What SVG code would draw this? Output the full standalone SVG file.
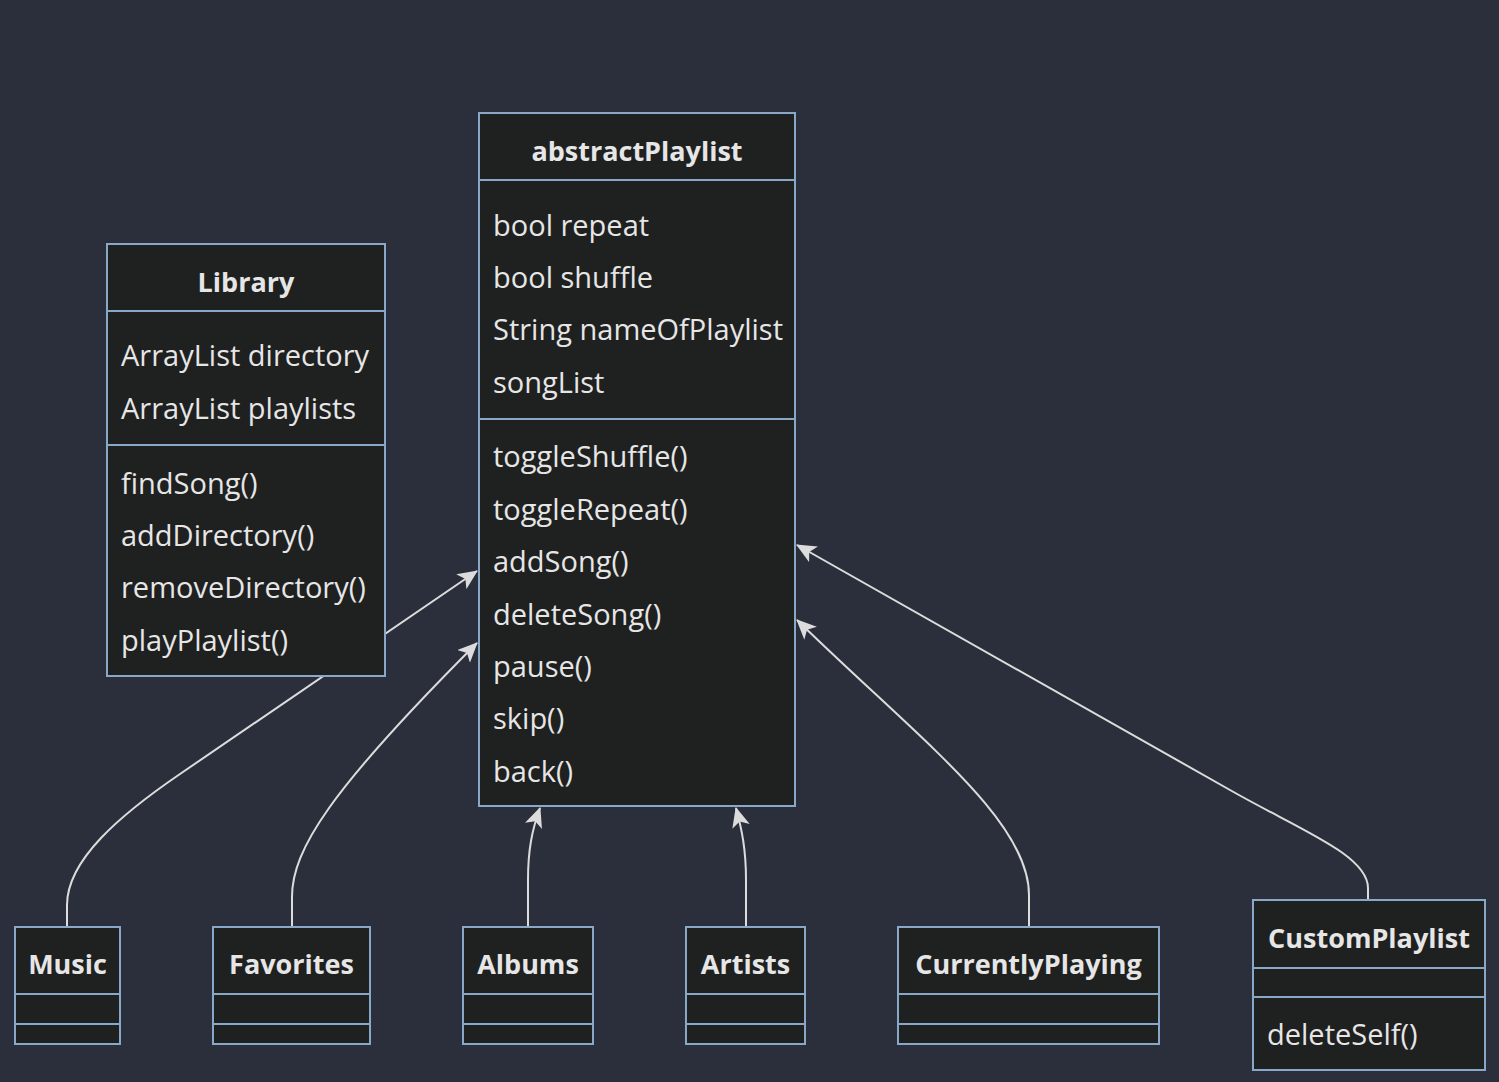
<svg xmlns="http://www.w3.org/2000/svg" width="1499" height="1082" viewBox="0 0 1499 1082">
<style>
.bg{fill:#2a2f3b}
.box{fill:#1f2020;stroke:#89a8c8;stroke-width:2}
.div{stroke:#89a8c8;stroke-width:2}
.t{font-family:"Open Sans","Liberation Sans",sans-serif;font-size:29px;fill:#e6e6e6}
.h{font-family:"Open Sans","Liberation Sans",sans-serif;font-size:27px;font-weight:bold;fill:#e6e6e6;text-anchor:middle}
.edge{fill:none;stroke:#dcdcdc;stroke-width:2}
</style>
<defs>
<marker id="arr" viewBox="0 0 20 18" refX="19" refY="9" markerWidth="20" markerHeight="18" markerUnits="userSpaceOnUse" orient="auto">
<path d="M0,0 L20,9 L0,18 L5,9 z" fill="#dcdcdc"/>
</marker>
</defs>
<rect class="bg" x="0" y="0" width="1499" height="1082"/>
<g id="connectors">
<path class="edge" marker-end="url(#arr)" d="M67,927 L67,905 C67,860 120,815 180,774 L477,571"/>
<path class="edge" marker-end="url(#arr)" d="M292,927 L292,897 C292,850 330,790 477,643"/>
<path class="edge" marker-end="url(#arr)" d="M528,927 L528,880 C528,850 532,830 540,808"/>
<path class="edge" marker-end="url(#arr)" d="M746,927 L746,880 C746,850 742,830 736,808"/>
<path class="edge" marker-end="url(#arr)" d="M1029,927 L1029,895 C1029,820 920,740 797,620"/>
<path class="edge" marker-end="url(#arr)" d="M1368,900 L1368,888 C1368,855 1300,830 1230,790 L797,545"/>
</g>
<g id="abstractPlaylist">
<rect class="box" x="479" y="113" width="316" height="693"/>
<line class="div" x1="479" y1="180" x2="795" y2="180"/>
<line class="div" x1="479" y1="419" x2="795" y2="419"/>
<text class="h" x="637" y="161">abstractPlaylist</text>
<text class="t" x="493" y="236">bool repeat</text>
<text class="t" x="493" y="288">bool shuffle</text>
<text class="t" x="493" y="340">String nameOfPlaylist</text>
<text class="t" x="493" y="393">songList</text>
<text class="t" x="493" y="467">toggleShuffle()</text>
<text class="t" x="493" y="520">toggleRepeat()</text>
<text class="t" x="493" y="572">addSong()</text>
<text class="t" x="493" y="625">deleteSong()</text>
<text class="t" x="493" y="677">pause()</text>
<text class="t" x="493" y="729">skip()</text>
<text class="t" x="493" y="782">back()</text>
</g>
<g id="Library">
<rect class="box" x="107" y="244" width="278" height="432"/>
<line class="div" x1="107" y1="311" x2="385" y2="311"/>
<line class="div" x1="107" y1="445" x2="385" y2="445"/>
<text class="h" x="246" y="292">Library</text>
<text class="t" x="121" y="366">ArrayList directory</text>
<text class="t" x="121" y="419">ArrayList playlists</text>
<text class="t" x="121" y="494">findSong()</text>
<text class="t" x="121" y="546">addDirectory()</text>
<text class="t" x="121" y="598">removeDirectory()</text>
<text class="t" x="121" y="651">playPlaylist()</text>
</g>
<g id="Music">
<rect class="box" x="15" y="927" width="105" height="117"/>
<line class="div" x1="15" y1="994" x2="120" y2="994"/>
<line class="div" x1="15" y1="1024" x2="120" y2="1024"/>
<text class="h" x="67.5" y="974">Music</text>
</g>
<g id="Favorites">
<rect class="box" x="213" y="927" width="157" height="117"/>
<line class="div" x1="213" y1="994" x2="370" y2="994"/>
<line class="div" x1="213" y1="1024" x2="370" y2="1024"/>
<text class="h" x="291.5" y="974">Favorites</text>
</g>
<g id="Albums">
<rect class="box" x="463" y="927" width="130" height="117"/>
<line class="div" x1="463" y1="994" x2="593" y2="994"/>
<line class="div" x1="463" y1="1024" x2="593" y2="1024"/>
<text class="h" x="528" y="974">Albums</text>
</g>
<g id="Artists">
<rect class="box" x="686" y="927" width="119" height="117"/>
<line class="div" x1="686" y1="994" x2="805" y2="994"/>
<line class="div" x1="686" y1="1024" x2="805" y2="1024"/>
<text class="h" x="745.5" y="974">Artists</text>
</g>
<g id="CurrentlyPlaying">
<rect class="box" x="898" y="927" width="261" height="117"/>
<line class="div" x1="898" y1="994" x2="1159" y2="994"/>
<line class="div" x1="898" y1="1024" x2="1159" y2="1024"/>
<text class="h" x="1028.5" y="974">CurrentlyPlaying</text>
</g>
<g id="CustomPlaylist">
<rect class="box" x="1253" y="900" width="232" height="170"/>
<line class="div" x1="1253" y1="968" x2="1485" y2="968"/>
<line class="div" x1="1253" y1="997" x2="1485" y2="997"/>
<text class="h" x="1369" y="948">CustomPlaylist</text>
<text class="t" x="1267" y="1045">deleteSelf()</text>
</g>
</svg>
